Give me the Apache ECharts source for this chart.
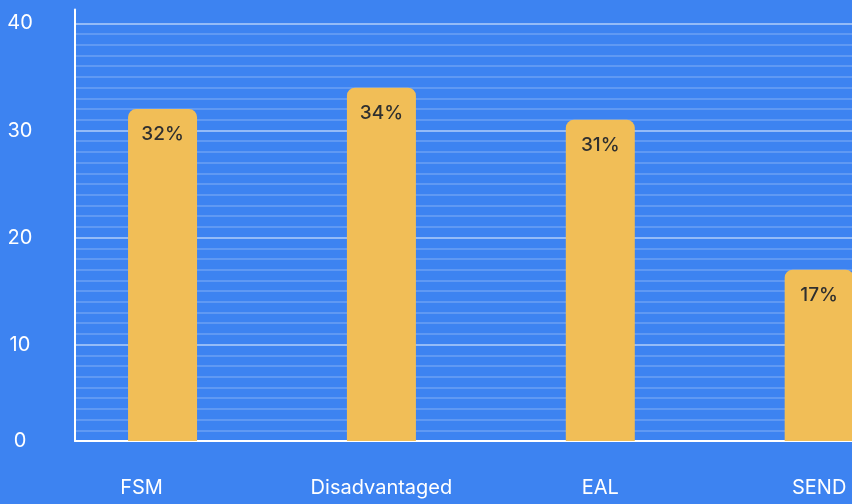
<!DOCTYPE html>
<html>
<head>
<meta charset="utf-8">
<script src="https://cdn.jsdelivr.net/npm/echarts@6/dist/echarts.min.js"></script>
<style>
html,body{margin:0;padding:0;background:#3d83f1;}
#chart{width:852px;height:504px;}
</style>
</head>
<body>
<div id="chart"></div>
<script>
const categories = ['FSM', 'Disadvantaged', 'EAL', 'SEND'];
const values = [32, 34, 31, 17];
const yTickLabels = [0, 10, 20, 30, 40];

const FONT = 'Inter, "Noto Sans", sans-serif';
const yMin = 1, yMax = 41.3;
const splitColors = [];
for (let v = yMin; v <= Math.floor(yMax); v++) {
  splitColors.push(v > 40 ? 'rgba(0,0,0,0)' : (v % 10 === 0 ? 'rgba(255,255,255,0.45)' : 'rgba(255,255,255,0.18)'));
}
splitColors.push('rgba(0,0,0,0)');

const chart = echarts.init(document.getElementById('chart'));
chart.setOption({
  backgroundColor: '#3d83f1',
  animation: false,
  grid: { left: 75, right: 0, top: 9.5, bottom: 63, containLabel: false },
  xAxis: {
    type: 'value',
    min: -0.4,
    max: 3.15,
    splitLine: { show: false },
    axisTick: { show: false },
    axisLine: { show: true, onZero: false, lineStyle: { color: '#ffffff', width: 2 } },
    axisLabel: {
      customValues: categories.map((c, i) => i),
      margin: 37,
      color: '#ffffff',
      fontFamily: FONT,
      fontSize: 20,
      formatter: function (v) {
        const name = categories[Math.round(v)] || '';
        return Math.round(v) === 0 ? '{f|' + name + '}' : name;
      },
      rich: { f: { color: '#ffffff', fontFamily: FONT, fontSize: 20, padding: [0, 42, 0, 0] } }
    }
  },
  yAxis: {
    type: 'value',
    min: yMin,
    max: yMax,
    interval: 1,
    axisTick: { show: false },
    axisLine: { show: true, onZero: false, lineStyle: { color: '#ffffff', width: 2 } },
    splitLine: { show: true, lineStyle: { color: splitColors, width: 2 } },
    axisLabel: {
      margin: 55,
      align: 'center',
      color: '#ffffff',
      fontFamily: FONT,
      fontSize: 20,
      formatter: function (v) {
        if (v === yMin) return String(yTickLabels[0]);
        return yTickLabels.indexOf(v) > 0 ? String(v) : '';
      }
    }
  },
  series: [{
    type: 'bar',
    barWidth: 69,
    data: values.map((v, i) => [i, v]),
    itemStyle: { color: '#f1be57', borderRadius: [8, 8, 0, 0] },
    label: {
      show: true,
      position: 'insideTop',
      distance: 16,
      color: '#2f2f2f',
      fontFamily: FONT,
      fontWeight: 500,
      fontSize: 19,
      formatter: function (p) { return p.value[1] + '%'; }
    }
  }]
});
</script>
</body>
</html>
